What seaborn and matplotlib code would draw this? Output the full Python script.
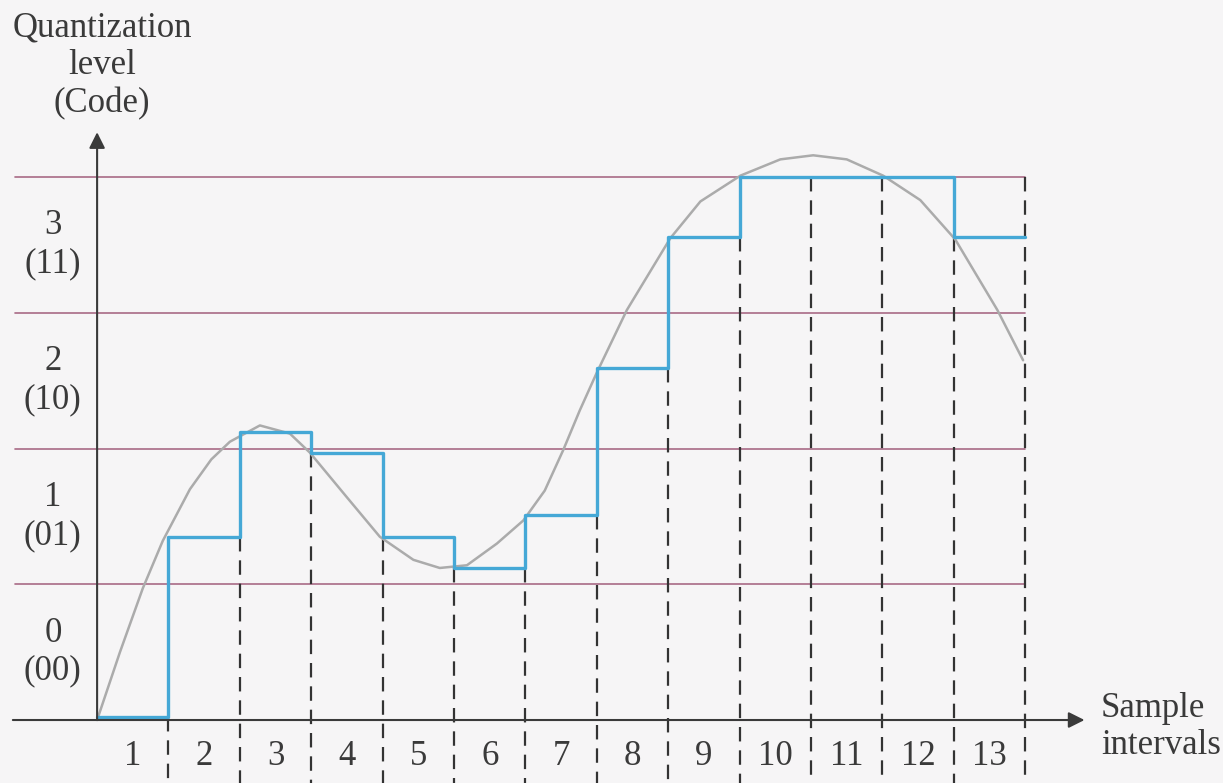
import numpy as np
import pandas as pd
import matplotlib
matplotlib.use("Agg")
import matplotlib.pyplot as plt
import seaborn as sns

# analog signal (x in sample intervals, y in levels)
signal_x = [0.0, 0.32, 0.64, 0.92, 1.30, 1.60, 1.86, 2.28, 2.70, 2.98, 3.50, 3.96,
            4.43, 4.80, 5.18, 5.60, 5.97, 6.27, 6.53, 6.76, 7.00, 7.42, 8.03,
            8.45, 9.01, 9.57, 10.03, 10.50, 11.01, 11.53, 12.02, 12.61, 12.97]
signal_y = [0.0, 0.50, 0.97, 1.32, 1.70, 1.92, 2.05, 2.17, 2.11, 1.97, 1.64, 1.35,
            1.18, 1.12, 1.14, 1.30, 1.47, 1.69, 1.99, 2.28, 2.56, 3.02, 3.55,
            3.82, 4.01, 4.13, 4.16, 4.13, 4.01, 3.83, 3.54, 3.02, 2.65]

# held (quantized) value in each of the 13 sample intervals
held_values = [0.02, 1.35, 2.12, 1.97, 1.35, 1.12, 1.51, 2.59, 3.56, 4.0, 4.0, 4.0, 3.56]

interval_labels = [str(i) for i in range(1, 14)]
level_labels = ["0\n(00)", "1\n(01)", "2\n(10)", "3\n(11)"]
level_bounds = [1, 2, 3, 4]

sns.set_style("white")
plt.rcParams["font.family"] = ["Liberation Serif", "DejaVu Serif"]

bg = "#f6f5f6"
ink = "#3a3a3a"
fig = plt.figure(figsize=(12.23, 7.83), dpi=100, facecolor=bg)
ax = fig.add_axes([0, 0, 1, 1], facecolor=bg)
ax.set_xlim(-1.36, 15.77)
ax.set_ylim(-0.464, 5.304)
ax.axis("off")

# quantization level lines
for lv in level_bounds:
    ax.plot([-1.15, 13], [lv, lv], color="#a86a86", lw=1.2, zorder=1)

# dashed sample boundaries
n = len(held_values)
dash_top = [min(held_values[k - 1], held_values[k]) for k in range(1, n)] + [max(level_bounds)]
for k, top in enumerate(dash_top, start=1):
    ax.plot([k, k], [top, -0.5], color="#333333", lw=1.6,
            linestyle=(0, (6.5, 4.0)), zorder=2)

# analog signal
sig = pd.DataFrame({"x": signal_x, "y": signal_y})
sns.lineplot(data=sig, x="x", y="y", ax=ax, color="#ababab", lw=1.8, zorder=3)

# quantized step signal
steps = pd.DataFrame({"x": np.arange(n + 1), "y": held_values + [held_values[-1]]})
sns.lineplot(data=steps, x="x", y="y", ax=ax, color="#45a8d6", lw=2.4,
             drawstyle="steps-post", zorder=4)

# axes with arrows
ax.annotate("", xy=(13.83, 0), xytext=(-1.18, 0),
            arrowprops=dict(arrowstyle="-|>", color=ink, lw=1.5,
                            mutation_scale=24, shrinkA=0, shrinkB=0), zorder=5)
ax.annotate("", xy=(0, 4.33), xytext=(0, 0),
            arrowprops=dict(arrowstyle="-|>", color=ink, lw=1.5,
                            mutation_scale=24, shrinkA=0, shrinkB=0), zorder=5)

fs = 25
for i, lab in enumerate(level_labels):
    ax.text(-0.62, i + 0.5, lab, ha="center", va="center", fontsize=fs,
            color=ink, linespacing=1.2)
for i, lab in enumerate(interval_labels):
    ax.text(i + 0.5, -0.27, lab, ha="center", va="center", fontsize=fs, color=ink)

ax.text(0.07, 4.82, "Quantization\nlevel\n(Code)", ha="center", va="center",
        fontsize=fs, color=ink, linespacing=1.2)
ax.text(14.06, -0.05, "Sample\nintervals", ha="left", va="center",
        fontsize=fs, color=ink, linespacing=1.15)

fig.savefig("out.png", dpi=100, facecolor=bg)
